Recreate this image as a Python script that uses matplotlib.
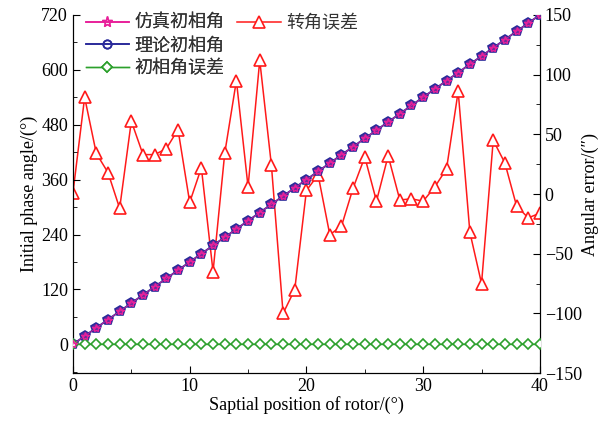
import numpy as np
import matplotlib
matplotlib.use('Agg')
import matplotlib.pyplot as plt
from matplotlib.ticker import MultipleLocator

plt.rcParams['font.family'] = ['Liberation Serif', 'Noto Sans CJK SC']

# rotor position (degrees)
position = list(range(0, 41))

# simulated / theoretical initial phase angle (degrees)
sim_phase = [0, 18, 36, 54, 72, 90, 108, 126, 144, 162, 180, 198, 216, 234, 252,
             270, 288, 306, 324, 342, 360, 378, 396, 414, 432, 450, 468, 486, 504,
             522, 540, 558, 576, 594, 612, 630, 648, 666, 684, 702, 720]
theory_phase = [0, 18, 36, 54, 72, 90, 108, 126, 144, 162, 180, 198, 216, 234, 252,
                270, 288, 306, 324, 342, 360, 378, 396, 414, 432, 450, 468, 486, 504,
                522, 540, 558, 576, 594, 612, 630, 648, 666, 684, 702, 720]
phase_error = [0] * 41

# angular error (arc seconds)
angle_error = [1, 81, 34, 18, -12, 61, 33, 33, 38, 54, -7, 22, -65, 34, 95,
               6, 112, 24, -100, -80, 3, 16, -34, -27, 5, 31, -6, 32, -5, -4,
               -6, 6, 21, 86, -32, -75, 45, 26, -10, -20, -16]

fig = plt.figure(figsize=(6.08, 4.25), dpi=100)
ax = fig.add_axes([0.12, 0.122, 0.768, 0.843])
ax2 = ax.twinx()

l2, = ax.plot(position, theory_phase, color='#2a2a9a', marker='p', ms=7, mfc='#6a2a9a',
              mew=1.2, lw=1.4, zorder=3, label='理论初相角')
l1, = ax.plot(position, sim_phase, color='#e8209a', marker='*', ms=6, mfc='none',
              mew=1.0, lw=0.5, zorder=4, label='仿真初相角')
l3, = ax.plot(position, phase_error, color='#2ca02c', marker='D', ms=5.5, mfc='white',
              mew=1.2, lw=1.0, zorder=3, label='初相角误差')
l4, = ax2.plot(position, angle_error, color='#ff1a1a', marker='^', ms=8, mfc='white',
               mew=1.2, lw=1.1, label='转角误差')

ax.set_xlim(0, 40)
ax.set_ylim(-63, 720)
ax2.set_ylim(-150, 150)
ax.set_yticks([0, 120, 240, 360, 480, 600, 720])
ax.yaxis.set_minor_locator(MultipleLocator(60))
ax.xaxis.set_major_locator(MultipleLocator(10))
ax.xaxis.set_minor_locator(MultipleLocator(5))
ax2.set_yticks([-150, -100, -50, 0, 50, 100, 150])
ax2.yaxis.set_minor_locator(MultipleLocator(25))

for a in (ax, ax2):
    a.spines['top'].set_visible(False)
    a.tick_params(direction='in', which='both', labelsize=13)
    a.tick_params(which='major', length=5)
    a.tick_params(which='minor', length=3)

ax.set_xlabel('Saptial position of rotor/(°)', fontsize=13, labelpad=1)
ax.set_ylabel('Initial phase angle/(°)', fontsize=13, labelpad=2)
ax2.set_ylabel('Angular error/(″)', fontsize=13, labelpad=0)

# plot the left-axis lines above the twin axes
ax.set_zorder(ax2.get_zorder() + 1)
ax.patch.set_visible(False)

# legend handles with hollow markers
h1, = ax.plot([], [], color='#e8209a', marker='*', ms=8, mfc='none', mew=1.0, lw=1.2)
h2, = ax.plot([], [], color='#2a2a9a', marker='o', ms=6, mfc='none', mew=1.2, lw=1.2)

leg1 = ax.legend(handles=[h1, h2, l3], labels=['仿真初相角', '理论初相角', '初相角误差'],
                 loc='upper left', bbox_to_anchor=(0.0, 1.035),
                 frameon=False, fontsize=13, handlelength=2.4, handletextpad=0.3,
                 labelspacing=0.3, borderaxespad=0.3, labelcolor='#333333')
ax.add_artist(leg1)
ax2.legend(handles=[l4], loc='upper left', bbox_to_anchor=(0.325, 1.035),
           frameon=False, fontsize=13, handlelength=2.4, handletextpad=0.3,
           borderaxespad=0.3, labelcolor='#333333')

fig.savefig('out.png', dpi=100)
